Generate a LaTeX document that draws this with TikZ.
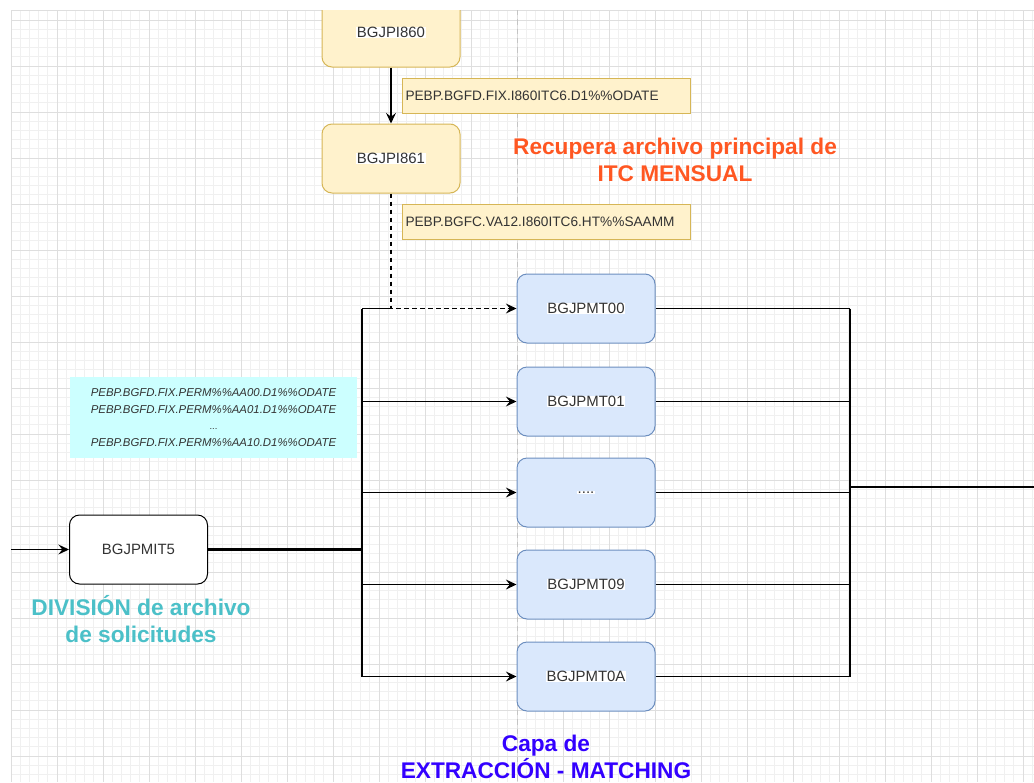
\documentclass[tikz,border=0pt]{standalone}
\usepackage{fontspec}
\setmainfont{Liberation Sans}
\usetikzlibrary{arrows.meta}

\definecolor{gridminor}{HTML}{F0F0F0}
\definecolor{gridmajor}{HTML}{DEDEDE}
\definecolor{pagebreak}{HTML}{C4C4C4}
\definecolor{yelfill}{HTML}{FFF2CC}
\definecolor{yeldraw}{HTML}{D6B656}
\definecolor{bluefill}{HTML}{DAE8FC}
\definecolor{bluedraw}{HTML}{6C8EBF}
\definecolor{cyanfill}{HTML}{CCFFFF}
\definecolor{txt}{HTML}{333333}
\definecolor{orangetxt}{HTML}{FF5722}
\definecolor{tealtxt}{HTML}{4BC0C8}
\definecolor{bluetxt}{HTML}{3300FF}

\begin{document}
\begin{tikzpicture}[x=0.75pt,y=-0.75pt,
  minorgrid/.style={draw=gridminor,line width=0.75pt},
  majorgrid/.style={draw=gridmajor,line width=0.75pt},
  jobbox/.style={rounded corners=7.5pt,minimum width=103.5pt,minimum height=51.75pt,
    inner sep=0pt,line width=0.75pt},
  yeljob/.style={jobbox,fill=yelfill,draw=yeldraw},
  bluejob/.style={jobbox,fill=bluefill,draw=bluedraw},
  whitejob/.style={jobbox,fill=white,draw=black,text=txt,font=\fontsize{11.2}{13}\selectfont},
  jobname/.style={fill=white,inner sep=0.4pt,text=txt,font=\fontsize{11.2}{13}\selectfont},
  dsname/.style={fill=yelfill,draw=yeldraw,line width=0.75pt,anchor=north west,
    minimum height=26.25pt,inner xsep=2.25pt,inner ysep=0pt,text width=211.5pt,align=left,
    text=txt,font=\fontsize{10.25}{12}\selectfont},
  dslist/.style={fill=cyanfill,minimum width=215.25pt,minimum height=60.75pt,inner sep=0pt,
    align=center,text=txt,font=\fontsize{8.55}{12.4}\selectfont\itshape},
  title/.style={align=center,font=\fontsize{17}{20.25}\selectfont\bfseries},
  conn/.style={draw=black,line width=0.9pt},
  arr/.style={conn,-{Stealth[length=8pt,width=7.5pt,inset=3pt]}}
]
\useasboundingbox (0,0) rectangle (1034,782);
\fill[white] (0,0) rectangle (1034,782);

\begin{scope}
\clip (11,10) rectangle (1034,782);

% background grid
\foreach \k in {0,...,111} \draw[minorgrid] ({11+9.2*\k},10) -- ({11+9.2*\k},782);
\foreach \k in {-2,...,83} \draw[minorgrid] (11,{20+9.2*\k}) -- (1034,{20+9.2*\k});
\foreach \k in {0,...,22} \draw[majorgrid] ({11+46*\k},10) -- ({11+46*\k},782);
\foreach \k in {-1,...,16} \draw[majorgrid] (11,{20+46*\k}) -- (1034,{20+46*\k});
\draw[majorgrid] (11,10.4) -- (1034,10.4);

% page break
\draw[pagebreak,line width=0.75pt,dash pattern=on 4pt off 3pt] (517,10) -- (517,782);

% monthly ITC chain
\node[yeljob,label={[jobname]center:BGJPI860}] (i860) at (391,32.5) {};
\node[yeljob,label={[jobname]center:BGJPI861}] (i861) at (391,158.5) {};
\node[dsname] (ds860) at (402,78) {PEBP.BGFD.FIX.I860ITC6.D1\%\%ODATE};
\node[dsname] (ds861) at (402,204) {PEBP.BGFC.VA12.I860ITC6.HT\%\%SAAMM};
\node[title,text=orangetxt] (rec) at (675,159.5) {Recupera archivo principal de\\ITC MENSUAL};

% matching jobs
\node[bluejob,label={[jobname]center:BGJPMT00}] (mt00) at (586,308.5) {};
\node[bluejob,label={[jobname]center:BGJPMT01}] (mt01) at (586,401.5) {};
\node[bluejob,label={[jobname]center:....}] (mtdots) at (586,492.5) {};
\node[bluejob,label={[jobname]center:BGJPMT09}] (mt09) at (586,584.5) {};
\node[bluejob,label={[jobname]center:BGJPMT0A}] (mt0A) at (586,676.5) {};

% request split
\node[whitejob] (mit5) at (138.5,549.5) {BGJPMIT5};
\node[dslist] (perm) at (213.5,417.5) {PEBP.BGFD.FIX.PERM\%\%AA00.D1\%\%ODATE\\
  PEBP.BGFD.FIX.PERM\%\%AA01.D1\%\%ODATE\\ {\upshape\fontsize{7}{12.4}\selectfont ...}\\
  PEBP.BGFD.FIX.PERM\%\%AA10.D1\%\%ODATE};
\node[title,text=tealtxt] (div) at (141,619.5) {DIVISIÓN de archivo\\de solicitudes};
\node[title,text=bluetxt] (capa) at (546,757) {Capa de\\EXTRACCIÓN - MATCHING};

% junction points
\coordinate (in) at (11,549.5);
\coordinate (bl) at (362,549.5);
\coordinate (br) at (850,487);
\coordinate (out) at (1034,487);
\coordinate (dc) at (i861.south |- mt00.west);

% connectors
\draw[arr] (i860.south) -- (i861.north);
\draw[arr] (in) -- (mit5.west);
\draw[conn,line width=1.6pt] (mit5.east) -- (bl);
\draw[conn] (bl |- mt00.west) -- (bl |- mt0A.west);
\draw[conn] (bl |- mt00.west) -- (dc);
\draw[arr,dash pattern=on 3.5pt off 2.5pt] (i861.south) -- (dc) -- (mt00.west);
\draw[arr] (bl |- mt01.west) -- (mt01.west);
\draw[arr] (bl |- mtdots.west) -- (mtdots.west);
\draw[arr] (bl |- mt09.west) -- (mt09.west);
\draw[arr] (bl |- mt0A.west) -- (mt0A.west);

\draw[conn] (mt00.east) -- (br |- mt00.east);
\draw[conn] (mt01.east) -- (br |- mt01.east);
\draw[conn] (mtdots.east) -- (br |- mtdots.east);
\draw[conn] (mt09.east) -- (br |- mt09.east);
\draw[conn] (mt0A.east) -- (br |- mt0A.east);
\draw[conn] (br |- mt00.east) -- (br |- mt0A.east);
\draw[conn] (br) -- (out);
\end{scope}
\end{tikzpicture}
\end{document}
